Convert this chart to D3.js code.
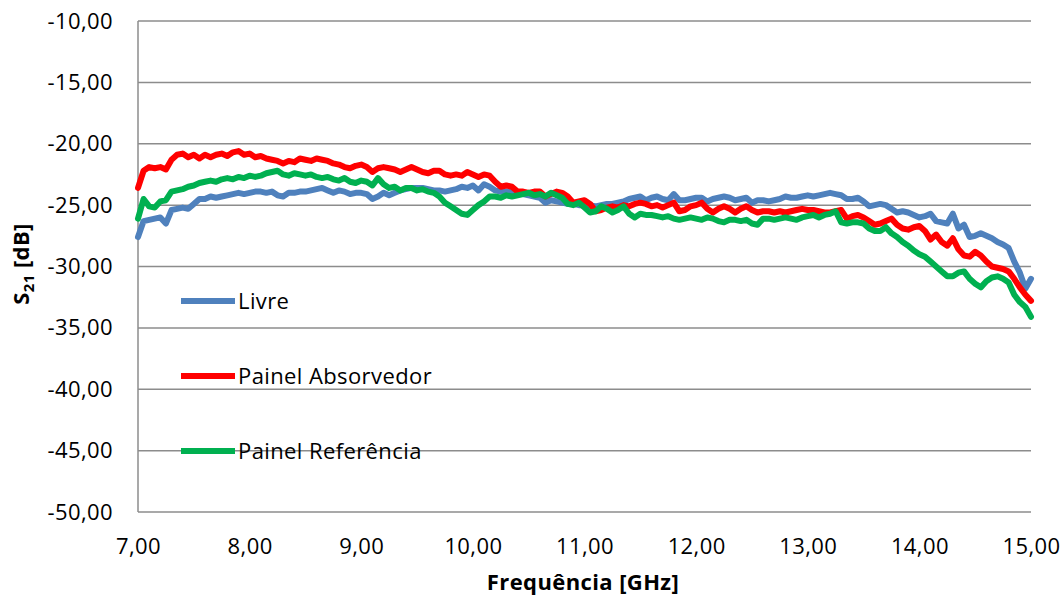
<!DOCTYPE html>
<html>
<head>
<meta charset="utf-8">
<script src="https://cdn.jsdelivr.net/npm/d3@7"></script>
<style>
  body { margin: 0; background: #fff; }
  text { font-family: "Open Sans", sans-serif; fill: #000; letter-spacing: 0.4px; }
</style>
</head>
<body>
<script>
// S21 vs frequency, three measurements, sampled every 0.05 GHz from 7 to 15
var freq = d3.range(0, 161).map(function(i){ return +(7 + i*0.05).toFixed(2); });

var livre = [
 -27.6,-26.3,-26.2,-26.1,-26.0,-26.5,-25.4,-25.3,-25.2,-25.3,
 -24.9,-24.5,-24.5,-24.3,-24.4,-24.3,-24.2,-24.1,-24.0,-24.1,
 -24.0,-23.9,-23.9,-24.0,-23.9,-24.2,-24.3,-24.0,-24.0,-23.9,
 -23.9,-23.8,-23.7,-23.6,-23.8,-24.0,-23.8,-23.9,-24.1,-24.0,
 -24.0,-24.1,-24.5,-24.3,-24.0,-24.2,-24.0,-23.8,-23.7,-23.6,
 -23.6,-23.6,-23.7,-23.8,-23.8,-23.9,-23.8,-23.7,-23.5,-23.6,
 -23.4,-23.8,-23.3,-23.5,-23.8,-23.9,-23.9,-23.9,-24.0,-24.1,
 -24.2,-24.3,-24.4,-24.8,-24.6,-24.7,-24.8,-24.9,-24.9,-25.0,
 -25.0,-25.0,-25.1,-25.0,-24.9,-24.9,-24.8,-24.7,-24.5,-24.4,
 -24.3,-24.6,-24.4,-24.3,-24.5,-24.6,-24.1,-24.6,-24.6,-24.5,
 -24.4,-24.4,-24.7,-24.5,-24.4,-24.3,-24.4,-24.6,-24.5,-24.4,
 -24.8,-24.6,-24.6,-24.7,-24.6,-24.5,-24.3,-24.4,-24.4,-24.3,
 -24.2,-24.3,-24.2,-24.1,-24.0,-24.1,-24.2,-24.5,-24.5,-24.4,
 -24.7,-25.1,-25.0,-24.9,-25.0,-25.3,-25.6,-25.5,-25.6,-25.8,
 -26.0,-25.9,-25.7,-26.3,-26.4,-26.5,-25.7,-26.9,-26.6,-27.6,
 -27.5,-27.3,-27.5,-27.7,-28.0,-28.2,-28.5,-29.6,-30.5,-31.8,
 -31.0
];

var absorvedor = [
 -23.6,-22.2,-21.9,-22.0,-21.9,-22.1,-21.3,-20.9,-20.8,-21.1,
 -20.9,-21.2,-20.9,-21.1,-20.9,-20.8,-21.0,-20.7,-20.6,-20.9,
 -20.8,-21.1,-21.0,-21.2,-21.3,-21.4,-21.6,-21.4,-21.5,-21.2,
 -21.3,-21.4,-21.2,-21.3,-21.4,-21.6,-21.7,-21.9,-22.0,-21.8,
 -21.7,-21.9,-22.3,-22.0,-21.9,-22.0,-22.1,-22.3,-22.1,-21.9,
 -22.1,-22.3,-22.4,-22.2,-22.2,-22.5,-22.6,-22.5,-22.6,-22.3,
 -22.5,-22.7,-22.5,-22.6,-23.1,-23.5,-23.4,-23.5,-23.9,-23.9,
 -24.0,-23.9,-23.9,-24.3,-24.1,-23.9,-24.0,-24.3,-24.8,-24.7,
 -24.6,-24.9,-25.5,-25.4,-25.2,-25.1,-25.2,-25.0,-25.1,-24.9,
 -24.8,-24.9,-25.1,-25.0,-25.2,-25.0,-24.8,-25.5,-25.4,-25.1,
 -25.0,-24.8,-25.3,-25.6,-25.3,-25.1,-25.3,-25.6,-25.3,-25.1,
 -25.4,-25.6,-25.5,-25.5,-25.6,-25.5,-25.6,-25.5,-25.4,-25.3,
 -25.4,-25.4,-25.5,-25.6,-25.6,-25.5,-25.4,-26.1,-25.9,-25.8,
 -26.0,-26.3,-26.6,-26.5,-26.3,-26.1,-26.6,-26.9,-27.0,-26.8,
 -26.7,-27.1,-27.8,-27.4,-28.0,-28.3,-27.7,-28.6,-29.1,-29.2,
 -28.8,-29.1,-29.6,-30.0,-30.1,-30.2,-30.4,-31.0,-31.7,-32.3,
 -32.8
];

var referencia = [
 -26.1,-24.5,-25.1,-25.2,-24.7,-24.6,-23.9,-23.8,-23.7,-23.5,
 -23.4,-23.2,-23.1,-23.0,-23.1,-22.9,-22.8,-22.9,-22.7,-22.8,
 -22.6,-22.7,-22.6,-22.4,-22.3,-22.2,-22.5,-22.6,-22.4,-22.5,
 -22.6,-22.5,-22.7,-22.8,-22.7,-22.9,-23.0,-22.8,-23.1,-23.2,
 -23.0,-23.1,-23.4,-22.8,-23.3,-23.6,-23.5,-23.8,-23.6,-23.6,
 -23.8,-23.7,-23.9,-24.0,-24.3,-24.8,-25.1,-25.4,-25.7,-25.8,
 -25.4,-25.0,-24.7,-24.3,-24.3,-24.4,-24.2,-24.3,-24.2,-24.1,
 -24.0,-24.2,-24.1,-24.3,-24.0,-24.2,-24.4,-24.9,-25.0,-24.8,
 -25.2,-25.6,-25.5,-25.1,-25.3,-25.6,-25.4,-25.1,-25.7,-26.0,
 -25.7,-25.8,-25.8,-25.9,-26.0,-25.9,-26.1,-26.2,-26.1,-26.0,
 -26.1,-26.2,-26.0,-26.1,-26.3,-26.4,-26.2,-26.2,-26.3,-26.2,
 -26.5,-26.6,-26.1,-26.1,-26.2,-26.1,-26.0,-26.1,-26.2,-26.0,
 -25.9,-25.8,-26.0,-25.8,-25.7,-25.5,-26.4,-26.5,-26.4,-26.4,
 -26.5,-26.9,-27.1,-27.1,-26.8,-27.3,-27.6,-28.0,-28.3,-28.7,
 -29.0,-29.2,-29.6,-30.0,-30.4,-30.8,-30.8,-30.5,-30.4,-31.0,
 -31.4,-31.7,-31.2,-30.9,-30.8,-31.0,-31.3,-32.3,-32.9,-33.3,
 -34.1
];

var seriesNames = ["Livre", "Painel Absorvedor", "Painel Referência"];
var seriesColors = ["#4f81bd", "#ff0000", "#00b050"];
var yTicks = [-10, -15, -20, -25, -30, -35, -40, -45, -50];
var xTicks = [7, 8, 9, 10, 11, 12, 13, 14, 15];

var width = 1062, height = 598,
    margin = {left:138, right:31, top:21, bottom:86};

var fmt = function(v){ return v.toFixed(2).replace(".", ","); };

var x = d3.scaleLinear().domain([7, 15]).range([margin.left, width - margin.right]);
var y = d3.scaleLinear().domain([-50, -10]).range([height - margin.bottom, margin.top]);

var svg = d3.select("body").append("svg")
    .attr("width", width).attr("height", height);

// horizontal gridlines
svg.append("g").selectAll("line")
  .data(yTicks)
  .enter().append("line")
    .attr("x1", x(7)).attr("x2", x(15))
    .attr("y1", function(d){ return y(d); })
    .attr("y2", function(d){ return y(d); })
    .attr("stroke", "#8c8c8c")
    .attr("stroke-width", 1.5);

// left axis line
svg.append("line")
  .attr("x1", x(7)).attr("x2", x(7))
  .attr("y1", y(-10)).attr("y2", y(-50))
  .attr("stroke", "#8c8c8c").attr("stroke-width", 1.5);

var yAxis = d3.axisLeft(y).tickValues(yTicks).tickFormat(fmt).tickSize(0).tickPadding(25);
var xAxis = d3.axisBottom(x).tickValues(xTicks).tickFormat(fmt).tickSize(0).tickPadding(26);

var gy = svg.append("g").attr("transform", "translate(" + x(7) + ",0)").call(yAxis);
var gx = svg.append("g").attr("transform", "translate(0," + y(-50) + ")").call(xAxis);
[gy, gx].forEach(function(g){
  g.select(".domain").remove();
  g.selectAll("text").attr("font-size", 22).attr("font-family", "Open Sans");
});

var line = d3.line()
    .x(function(d, i){ return x(freq[i]); })
    .y(function(d){ return y(d); });

[livre, absorvedor, referencia].forEach(function(s, k){
  svg.append("path")
    .datum(s)
    .attr("d", line)
    .attr("fill", "none")
    .attr("stroke", seriesColors[k])
    .attr("stroke-width", 6)
    .attr("stroke-linejoin", "round")
    .attr("stroke-linecap", "round");
});

// legend
var legendY = [301, 376, 451];
seriesNames.forEach(function(name, k){
  svg.append("line")
    .attr("x1", 181).attr("x2", 235)
    .attr("y1", legendY[k]).attr("y2", legendY[k])
    .attr("stroke", seriesColors[k]).attr("stroke-width", 6);
  svg.append("text")
    .attr("x", 238).attr("y", legendY[k])
    .attr("dy", "0.35em")
    .attr("font-size", 22)
    .text(name);
});

// axis titles
svg.append("text")
  .attr("x", 583).attr("y", 590)
  .attr("text-anchor", "middle")
  .attr("font-size", 22).attr("font-weight", "bold")
  .text("Frequência [GHz]");

var yt = svg.append("text")
  .attr("transform", "translate(29,264) rotate(-90)")
  .attr("text-anchor", "middle")
  .attr("font-size", 22).attr("font-weight", "bold");
yt.append("tspan").text("S");
yt.append("tspan").attr("font-size", 15).attr("dy", 5).text("21");
yt.append("tspan").attr("dy", -5).text(" [dB]");
</script>
</body>
</html>
